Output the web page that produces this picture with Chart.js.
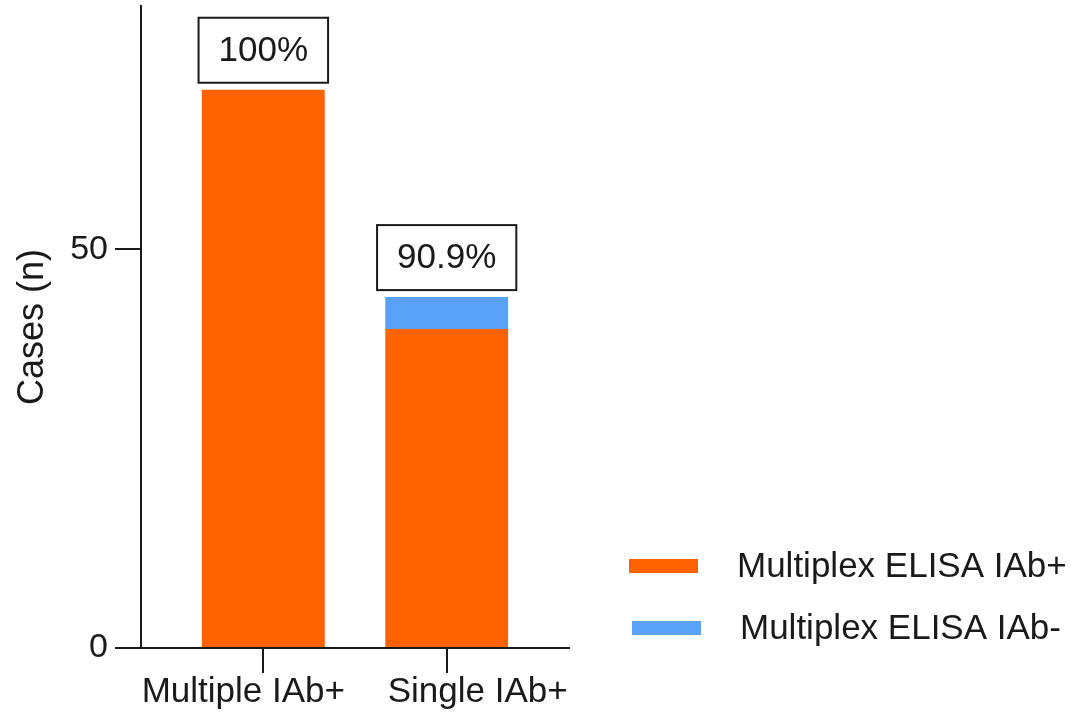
<!DOCTYPE html>
<html>
<head>
<meta charset="utf-8">
<script src="https://cdn.jsdelivr.net/npm/chart.js@4.4.1/dist/chart.umd.min.js"></script>
<style>
html, body { margin: 0; padding: 0; background: #fff; }
</style>
</head>
<body>
<canvas id="myChart" width="1071" height="714"></canvas>
<script>
// data
var categories = ['Multiple IAb+', 'Single IAb+'];
var positiveCases = [70, 40];   // Multiplex ELISA IAb+
var negativeCases = [0, 4];     // Multiplex ELISA IAb-
var seriesNames = ['Multiplex ELISA IAb+', 'Multiplex ELISA IAb-'];
var seriesColors = ['#FF6200', '#5AA2F8'];
var yTicks = [0, 50];

var FONT = '"Liberation Sans", Arial, sans-serif';
var INK = '#1a1a1a';

// boxed percentage above each stack
var pctBoxes = {
  id: 'pctBoxes',
  afterDatasetsDraw: function (chart) {
    var ctx = chart.ctx, xs = chart.scales.x, ys = chart.scales.y;
    ctx.save();
    ctx.font = '35px ' + FONT;
    ctx.textAlign = 'center';
    ctx.textBaseline = 'middle';
    categories.forEach(function (c, i) {
      var total = positiveCases[i] + negativeCases[i];
      var txt = (Math.round(positiveCases[i] / total * 1000) / 10) + '%';
      var cx = xs.getPixelForValue(i);
      var bottom = ys.getPixelForValue(total) - 7;
      var w = ctx.measureText(txt).width + 40, h = 65;
      ctx.fillStyle = '#fff';
      ctx.fillRect(cx - w / 2, bottom - h, w, h);
      ctx.lineWidth = 2;
      ctx.strokeStyle = INK;
      ctx.strokeRect(cx - w / 2, bottom - h, w, h);
      ctx.fillStyle = INK;
      ctx.fillText(txt, cx, bottom - h / 2 + 1);
    });
    ctx.restore();
  }
};

// category labels under the ticks (they sit a little off-centre in the original)
var xLabels = {
  id: 'xLabels',
  afterDraw: function (chart) {
    var ctx = chart.ctx, xs = chart.scales.x;
    var shift = [-20, 31];
    ctx.save();
    ctx.font = '35px ' + FONT;
    ctx.fillStyle = INK;
    ctx.textAlign = 'center';
    ctx.textBaseline = 'alphabetic';
    categories.forEach(function (c, i) {
      ctx.fillText(c, xs.getPixelForValue(i) + shift[i], 702);
    });
    ctx.restore();
  }
};

// legend at lower right
var sideLegend = {
  id: 'sideLegend',
  afterDraw: function (chart) {
    var ctx = chart.ctx;
    ctx.save();
    ctx.font = '35px ' + FONT;
    ctx.textBaseline = 'alphabetic';
    chart.data.datasets.forEach(function (ds, i) {
      var y = 566 + i * 62;
      ctx.fillStyle = ds.backgroundColor;
      ctx.fillRect(629 + i * 3, y - 7, 69, 14);
      ctx.fillStyle = INK;
      ctx.fillText(ds.label, 737 + i * 3, y + 11);
    });
    ctx.restore();
  }
};

var ctxB = document.getElementById('myChart').getContext('2d');
var myBarChart = new Chart(ctxB, {
  type: 'bar',
  data: {
    datasets: [
      {
        label: seriesNames[0],
        data: positiveCases.map(function (v, i) { return { x: i, y: v }; }),
        backgroundColor: seriesColors[0]
      },
      {
        label: seriesNames[1],
        data: negativeCases.map(function (v, i) { return { x: i, y: v }; }),
        backgroundColor: seriesColors[1]
      }
    ]
  },
  options: {
    responsive: false,
    animation: false,
    devicePixelRatio: 1,
    layout: { padding: { top: 6, right: 502, left: 0, bottom: 0 } },
    datasets: { bar: { barPercentage: 0.67, categoryPercentage: 1, borderWidth: 0 } },
    plugins: {
      legend: { display: false },
      tooltip: { enabled: false }
    },
    scales: {
      x: {
        type: 'linear',
        stacked: true,
        offset: false,
        min: -0.667,
        max: 1.667,
        afterBuildTicks: function (scale) {
          scale.ticks = categories.map(function (c, i) { return { value: i }; });
        },
        afterFit: function (scale) {
          scale.height = 66;
          scale.paddingLeft = 0;
          scale.paddingRight = 0;
        },
        ticks: { display: false },
        grid: { offset: false, drawOnChartArea: false, tickLength: 25, color: INK, lineWidth: 2 },
        border: { display: true, color: INK, width: 2 }
      },
      y: {
        stacked: true,
        min: 0,
        max: 80.5,
        afterBuildTicks: function (scale) {
          scale.ticks = yTicks.map(function (v) { return { value: v }; });
        },
        afterFit: function (scale) {
          scale.width = 141;
          scale.paddingTop = 0;
          scale.paddingBottom = 0;
        },
        ticks: { font: { family: FONT, size: 34 }, color: INK, padding: 7 },
        grid: { drawOnChartArea: false, tickLength: 26, color: INK, lineWidth: 2 },
        border: { display: true, color: INK, width: 2 },
        title: {
          display: true,
          text: 'Cases (n)',
          font: { family: FONT, size: 36 },
          color: INK,
          padding: { top: 11, bottom: 0 }
        }
      }
    }
  },
  plugins: [pctBoxes, xLabels, sideLegend]
});
</script>
</body>
</html>
